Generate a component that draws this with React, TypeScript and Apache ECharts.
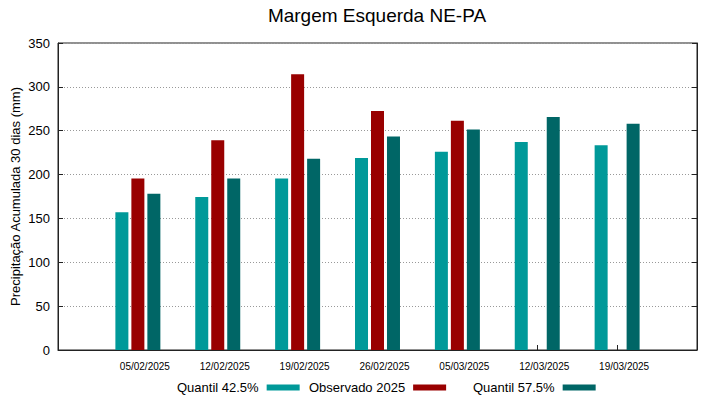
import React, { useEffect, useRef } from "react";
import * as echarts from "echarts";

const categories = ["05/02/2025", "12/02/2025", "19/02/2025", "26/02/2025", "05/03/2025", "12/03/2025", "19/03/2025"];
const quantil425 = [157, 174.5, 195.5, 219, 226, 237, 233.5];
const observado2025: (number | null)[] = [195.5, 239, 314.5, 272.5, 261.5, null, null];
const quantil575 = [178, 195.5, 218, 243.5, 251.5, 265.5, 258];
const yTicks = [0, 50, 100, 150, 200, 250, 300, 350];

const FONT = "Liberation Sans, Arial, sans-serif";

export default function App() {
  const ref = useRef<HTMLDivElement>(null);
  useEffect(() => {
    if (!ref.current) return;
    const chart = echarts.init(ref.current, null, { renderer: "svg" });
    const toPairs = (arr: (number | null)[]) =>
      arr.map((v, i) => (v == null ? null : [i, v])).filter((d) => d !== null);
    const names = ["Quantil 42.5%", "Observado 2025", "Quantil 57.5%"];
    const colors = ["#009999", "#990000", "#006666"];
    const datas = [quantil425, observado2025, quantil575];
    const legendLefts = [177, 309, 473];
    chart.setOption({
      animation: false,
      textStyle: { fontFamily: FONT },
      title: {
        text: "Margem Esquerda NE-PA",
        left: 372,
        textAlign: "center",
        top: 1,
        textStyle: { fontFamily: FONT, fontSize: 19, fontWeight: "normal", color: "#000" },
      },
      legend: names.map((n, i) => ({
        data: [n],
        left: legendLefts[i],
        top: 381,
        padding: 0,
        align: "right",
        itemWidth: 33,
        itemHeight: 6,
        itemGap: 8,
        icon: "rect",
        textStyle: { fontFamily: FONT, fontSize: 13, color: "#000", padding: [0, 3, 0, 0] },
        selectedMode: false,
      })),
      grid: {
        left: 58,
        right: 22,
        top: 43,
        bottom: 49,
        show: true,
        borderColor: "#222",
        borderWidth: 1,
        outerBoundsMode: "none",
        containLabel: false,
      },
      xAxis: {
        type: "value",
        min: -1,
        max: 7,
        interval: 1,
        axisLine: { show: true, onZero: false, lineStyle: { color: "#222" } },
        axisTick: { show: true, inside: true, length: 5, lineStyle: { color: "#222" } },
        splitLine: { show: false },
        axisLabel: {
          margin: 11,
          fontSize: 10,
          color: "#000",
          fontFamily: FONT,
          padding: [0, 0, 0, 14],
          formatter: (v: number) => (v >= 0 && v < categories.length ? categories[v] : ""),
        },
      },
      yAxis: [
        {
          type: "value",
          min: 0,
          max: 350,
          interval: 50,
          name: "Precipitação Acumulada 30 dias (mm)",
          nameLocation: "middle",
          nameGap: 36,
          nameMoveOverlap: false,
          nameTextStyle: { fontFamily: FONT, fontSize: 13, color: "#000" },
          axisLine: { show: true, onZero: false, lineStyle: { color: "#222" } },
          axisTick: { show: true, inside: true, length: 5, lineStyle: { color: "#222" } },
          axisLabel: {
            fontSize: 13,
            color: "#000",
            fontFamily: FONT,
            margin: 8,
            formatter: (v: number) => (yTicks.includes(v) ? String(v) : ""),
          },
          splitLine: { show: true, lineStyle: { color: "#999", type: [1, 2], width: 1 } },
        },
        {
          type: "value",
          min: 0,
          max: 350,
          interval: 50,
          position: "right",
          axisLine: { show: true, onZero: false, lineStyle: { color: "#222" } },
          axisTick: { show: true, inside: true, length: 5, lineStyle: { color: "#222" } },
          axisLabel: { show: false },
          splitLine: { show: false },
        },
      ],
      series: names.map((n, i) => ({
        name: n,
        type: "bar",
        yAxisIndex: 0,
        barWidth: 13,
        barGap: "23%",
        itemStyle: { color: colors[i] },
        data: toPairs(datas[i]),
      })),
    });
    return () => chart.dispose();
  }, []);
  return <div ref={ref} style={{ width: 719, height: 399, position: "absolute", left: 0, top: 0 }} />;
}
